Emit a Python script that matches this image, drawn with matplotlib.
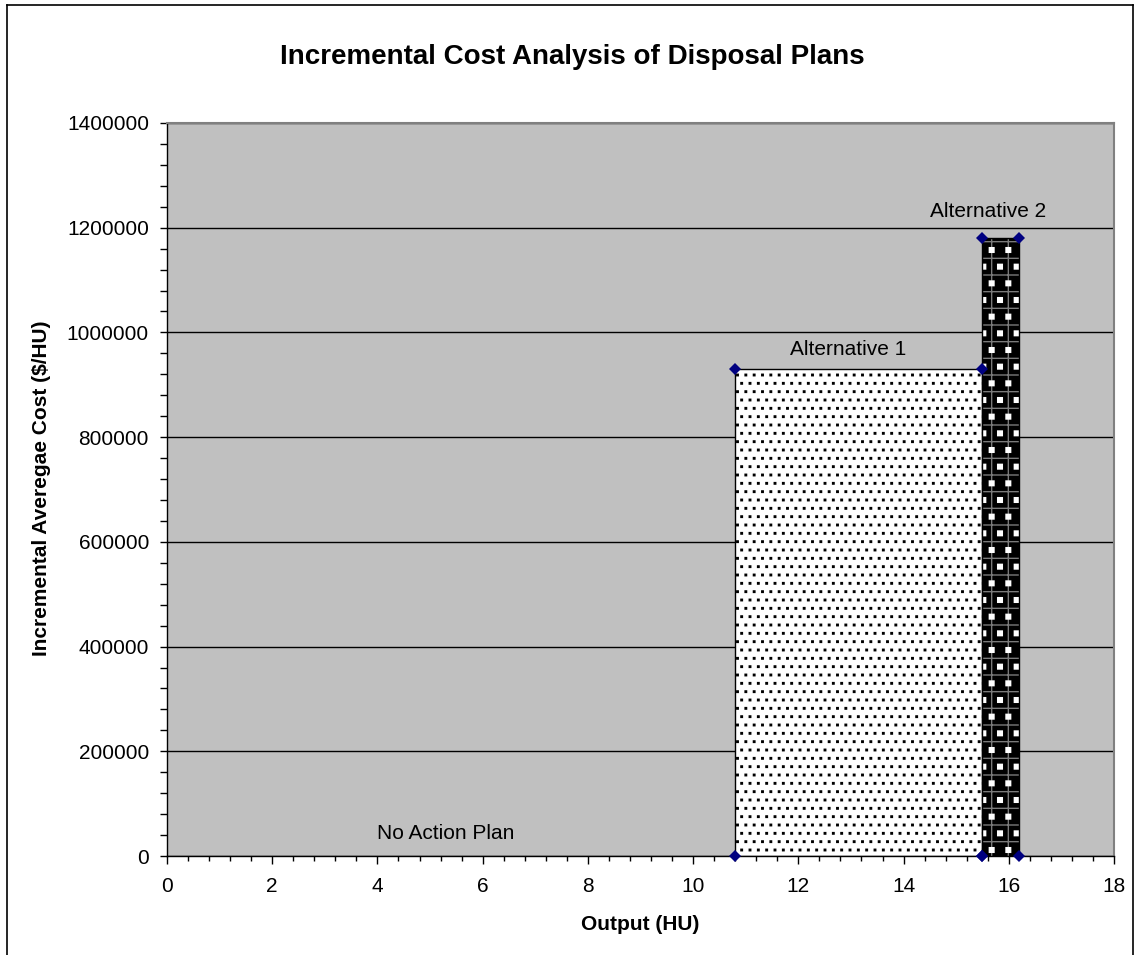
import matplotlib
matplotlib.use("Agg")
import matplotlib.pyplot as plt
import numpy as np
from matplotlib.lines import Line2D
from matplotlib.path import Path
from matplotlib import hatch as mhatch

plt.rcParams['font.family'] = ['Liberation Sans', 'DejaVu Sans']
plt.rcParams['hatch.linewidth'] = 1.0

# square-dot hatch patterns (Excel-like dotted fills)
try:
    _sq = np.array([[-1, -1], [1, -1], [1, 1], [-1, 1], [-1, -1]], dtype=float)
    _sq_codes = np.array([Path.MOVETO, Path.LINETO, Path.LINETO, Path.LINETO,
                          Path.CLOSEPOLY], dtype=Path.code_type)

    class SmallSquares(mhatch.Shapes):
        size = 0.09
        filled = True

        def __init__(self, hatch, density):
            self.num_rows = hatch.count('.') * density
            self.shape_vertices = _sq
            self.shape_codes = _sq_codes
            super().__init__(hatch, density)

    class BigSquares(mhatch.Shapes):
        size = 0.14
        filled = True

        def __init__(self, hatch, density):
            self.num_rows = hatch.count('*') * density
            self.shape_vertices = _sq
            self.shape_codes = _sq_codes
            super().__init__(hatch, density)

    mhatch._hatch_types = [t for t in mhatch._hatch_types
                           if t not in (mhatch.SmallFilledCircles, mhatch.Stars)]
    mhatch._hatch_types += [SmallSquares, BigSquares]
    DOT2 = '*'
except Exception:
    DOT2 = '.'

# ---- data ----
plans = ["No Action Plan", "Alternative 1", "Alternative 2"]
x_left = [10.8, 15.5]          # Alternative 1, Alternative 2
x_right = [15.5, 16.2]
costs = [930000, 1180000]
label_x = [5.3, 12.95, 15.6]
label_base = [0, 930000, 1180000]
xticks = [0, 2, 4, 6, 8, 10, 12, 14, 16, 18]
yticks = [0, 200000, 400000, 600000, 800000, 1000000, 1200000, 1400000]

W, H = 1135, 955
fig = plt.figure(figsize=(W / 100, H / 100), dpi=100)
ax = fig.add_axes([167 / W, 1 - 856 / H, (1114 - 167) / W, (856 - 123) / H])
ax.set_facecolor('#C0C0C0')

ax.set_xlim(0, 18)
ax.set_ylim(0, 1400000)
ax.set_xticks(xticks)
ax.set_xticklabels([str(t) for t in xticks])
ax.set_yticks(yticks)
ax.set_yticklabels([str(t) for t in yticks])
ax.set_xticks(np.arange(0, 18.01, 0.4), minor=True)
ax.set_yticks(np.arange(0, 1400001, 40000), minor=True)
ax.tick_params(axis='both', which='both', direction='out', colors='black', labelsize=15)
ax.tick_params(axis='x', which='major', length=6, width=1, pad=9)
ax.tick_params(axis='x', which='minor', length=3.5, width=1)
ax.tick_params(axis='y', which='major', length=5, width=1, pad=8)
ax.tick_params(axis='y', which='minor', length=5, width=1)

ax.yaxis.grid(True, which='major', color='black', linewidth=1)
ax.set_axisbelow(True)

for s in ['top', 'right']:
    ax.spines[s].set_color('#808080')
    ax.spines[s].set_linewidth(1.5)
for s in ['left', 'bottom']:
    ax.spines[s].set_color('black')
    ax.spines[s].set_linewidth(1)

widths = [r - l for l, r in zip(x_left, x_right)]

# Alternative 1: white with black dots
ax.bar(x_left[0], costs[0], width=widths[0], align='edge', facecolor='white',
       edgecolor='black', hatch='..', linewidth=1, zorder=2)
# Alternative 2: black with gray grid and white squares
ax.bar(x_left[1], costs[1], width=widths[1], align='edge', facecolor='black',
       edgecolor='#7a7a7a', hatch='+', linewidth=0, zorder=3)
ax.bar(x_left[1], costs[1], width=widths[1], align='edge', facecolor='none',
       edgecolor='white', hatch=DOT2, linewidth=0, zorder=3.1)
ax.bar(x_left[1], costs[1], width=widths[1], align='edge', facecolor='none',
       edgecolor='black', linewidth=1, zorder=3.2)

# corner markers
mx, my = [], []
for l, r, c in zip(x_left, x_right, costs):
    mx += [l, l, r, r]
    my += [0, c, c, 0]
ax.plot(mx, my, linestyle='none', marker='D', markersize=6, color='#000080',
        markeredgewidth=0, zorder=4, clip_on=False)

# plan labels
offsets = [12, 10, 15]
for name, lx, lb, off in zip(plans, label_x, label_base, offsets):
    ax.annotate(name, xy=(lx, lb), xytext=(0, off), textcoords='offset points',
                ha='center', va='baseline', fontsize=15, color='black', zorder=5)

fig.text(572 / W, 1 - 64 / H, "Incremental Cost Analysis of Disposal Plans",
         ha='center', va='baseline', fontsize=20, fontweight='bold')
fig.text(42 / W, 1 - 488.5 / H, "Incremental Averegae Cost ($/HU)", rotation=90,
         ha='center', va='center', fontsize=15, fontweight='bold')
fig.text(640 / W, 1 - 930 / H, "Output (HU)", ha='center', va='baseline',
         fontsize=15, fontweight='bold')

# chart border
bx0, bx1, by0 = 7 / W, 1133 / W, 1 - 5 / H
fig.add_artist(Line2D([bx0, bx0], [0, by0], color='black', linewidth=1.2, transform=fig.transFigure))
fig.add_artist(Line2D([bx0, bx1], [by0, by0], color='black', linewidth=1.2, transform=fig.transFigure))
fig.add_artist(Line2D([bx1, bx1], [0, by0], color='black', linewidth=1.2, transform=fig.transFigure))

fig.savefig("out.png", dpi=100)
